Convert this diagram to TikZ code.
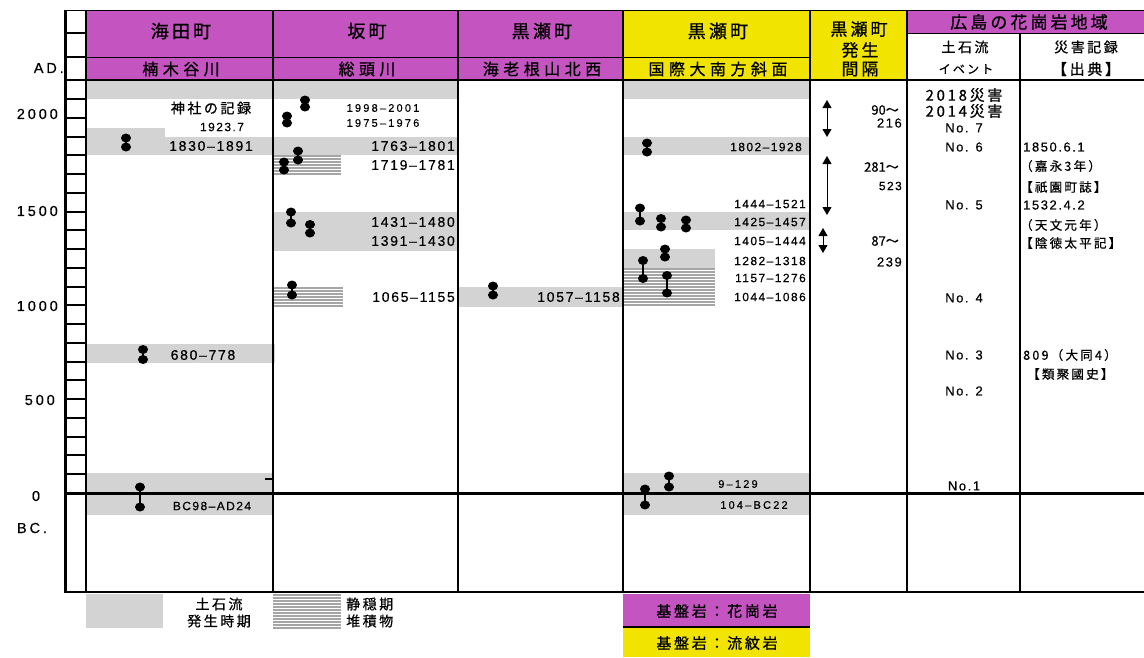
\documentclass[tikz,border=0pt]{standalone}
\usepackage{fontspec}
\setmainfont{Noto Sans CJK JP}
\newfontfamily\jpf[LetterSpace=18,FakeBold=0.7]{Noto Sans CJK JP}
\newfontfamily\jpw[LetterSpace=28,FakeBold=0.7]{Noto Sans CJK JP}
\newfontfamily\jpn[FakeBold=0.5]{Noto Sans CJK JP}
\newfontfamily\numf[LetterSpace=12,FakeBold=0.4]{Liberation Sans}
\newfontfamily\numw[LetterSpace=20,FakeBold=0.4]{Liberation Sans}
\usetikzlibrary{arrows.meta}
\definecolor{mag}{RGB}{196,84,192}
\definecolor{yel}{RGB}{240,228,0}
\definecolor{band}{RGB}{211,211,211}
\definecolor{hatchc}{RGB}{165,165,165}
\newcommand\dumbb[3]{%
  \draw[line width=2.2pt] (#1,#2) -- (#1,#3);
  \fill (#1,#2) ellipse (5pt and 4.5pt);
  \fill (#1,#3) ellipse (5pt and 4.5pt);}
\newcommand\hatchrect[4]{%
  \fill[white] (#1,#2) rectangle (#3,#4);
  \pgfmathtruncatemacro\hn{(#4-#2-1)/3}%
  \foreach \hk in {0,...,\hn} \draw[hatchc, line width=1.1pt] (#1,{#2+1+3*\hk}) -- (#3,{#2+1+3*\hk});}
\tikzset{
  hdA/.style={inner sep=0pt, font={\jpf\fontsize{18}{20}\selectfont}},
  hdB/.style={inner sep=0pt, font={\jpw\fontsize{16}{18}\selectfont}},
  hdC/.style={inner sep=0pt, font={\jpf\fontsize{17}{19}\selectfont}},
  hdD/.style={inner sep=0pt, font={\jpf\fontsize{15}{17}\selectfont}},
  jpS/.style={inner sep=0pt, font={\jpf\fontsize{14}{16}\selectfont}},
  jpT/.style={inner sep=0pt, font={\jpf\fontsize{12.5}{14}\selectfont}},
  numL/.style={inner sep=0pt, font={\numf\fontsize{14}{16}\selectfont}},
  numM/.style={inner sep=0pt, font={\numf\fontsize{12}{14}\selectfont}},
  numS/.style={inner sep=0pt, font={\numw\fontsize{11}{13}\selectfont}},
  numN/.style={inner sep=0pt, font={\numf\fontsize{13}{15}\selectfont}},
  axis/.style={inner sep=0pt, font={\numw\fontsize{14.5}{16}\selectfont}},
  colline/.style={line width=2pt},
  thinline/.style={line width=1pt},
  dbl/.style={line width=1pt, {Triangle[width=9pt,length=8pt]}-{Triangle[width=9pt,length=8pt]}}
}
\begin{document}
\begin{tikzpicture}[x=1pt,y=-1pt]
\useasboundingbox (0,0) rectangle (1144,657);
% ---------- header fills
\fill[mag] (86,10) rectangle (623,80);
\fill[yel] (623,10) rectangle (907,80);
\fill[mag] (907,10) rectangle (1144,33);
% ---------- gray bands (debris flow periods)
\fill[band] (86,80) rectangle (458,99);
\fill[band] (623,80) rectangle (810,99);
\fill[band] (86,128) rectangle (165,155);
\fill[band] (165,137) rectangle (458,155);
\fill[band] (273,212) rectangle (458,251);
\fill[band] (458,287) rectangle (623,307);
\fill[band] (623,137) rectangle (810,155);
\fill[band] (623,212) rectangle (810,230);
\fill[band] (623,249) rectangle (715,268);
\fill[band] (86,344) rectangle (275,363);
\fill[band] (86,473) rectangle (273,515);
\fill[band] (623,473) rectangle (810,515);
% ---------- hatched (quiet period deposits)
\hatchrect{273}{155}{341}{175}
\hatchrect{273}{287}{343}{307}
\hatchrect{623}{268}{715}{307}
% ---------- legend boxes
\fill[band] (86,594) rectangle (163,628);
\hatchrect{273}{594}{341}{628}
\fill[mag] (623,594) rectangle (810,627);
\fill[yel] (623,627) rectangle (810,657);
\draw[line width=2pt] (623,627) -- (810,627);
% ---------- grid lines
\draw[thinline] (65,10) -- (1144,10);
\draw[thinline] (86,57) -- (810,57);
\draw[thinline] (907,33) -- (1144,33);
\foreach \xx in {273,458,623,810,907} \draw[colline] (\xx,10) -- (\xx,592);
\draw[colline] (1020,33) -- (1020,592);
\draw[line width=2.5pt] (65,80) -- (1144,80);
\draw[line width=3pt] (65,493) -- (1144,493);
\draw[line width=2pt] (65,592) -- (1144,592);
% ---------- ladder scale
\draw[line width=3pt] (65,10) -- (65,593);
\draw[line width=2.5pt] (86,10) -- (86,593);
\draw[line width=2pt] (65,33) -- (86,33);
\draw[line width=2pt] (65,57) -- (86,57);
\foreach \k in {1,...,21} \draw[line width=2pt] (65,{493-18.76*\k}) -- (86,{493-18.76*\k});
\draw[line width=1.2pt] (265,479) -- (273,479);
% ---------- header texts
\node[hdA] (h1) at (181,31) {海田町};
\node[hdA] (h2) at (367,31) {坂町};
\node[hdA] (h3) at (542,31) {黒瀬町};
\node[hdA] (h4) at (718,31) {黒瀬町};
\node[hdB] (s1) at (181,69) {楠木谷川};
\node[hdB] (s2) at (367,69) {総頭川};
\node[hdB] (s3) at (542,69) {海老根山北西};
\node[hdB] (s4) at (718,69) {国際大南方斜面};
\node[hdC] (h5a) at (859,29) {黒瀬町};
\node[hdC] (h5b) at (860,50) {発生};
\node[hdC] (h5c) at (860,69) {間隔};
\node[hdC] (h6) at (1029,22) {広島の花崗岩地域};
\node[jpS] (h6a) at (965,47) {土石流};
\node[inner sep=0pt, font={\jpf\fontsize{12}{14}\selectfont}] (h6b) at (966,69) {イベント};
\node[jpS] (h7a) at (1086,47) {災害記録};
\node[hdD] (h7b) at (1086,69) {【出典】};
% ---------- axis labels
\node[axis, anchor=east] (ad) at (64,68) {AD.};
\node[axis, anchor=east] (y2000) at (58,114) {2000};
\node[axis, anchor=east] (y1500) at (58,211) {1500};
\node[axis, anchor=east] (y1000) at (58,306) {1000};
\node[axis, anchor=east] (y500) at (55,400) {500};
\node[axis] (y0) at (36,496) {0};
\node[axis] (bc) at (32,528) {BC.};
% ---------- column 1
\dumbb{126}{138}{147}
\dumbb{143}{349.5}{359.5}
\dumbb{140}{487}{507}
\node[jpS] (c1a) at (211,108) {神社の記録};
\node[numM] (c1b) at (222,127) {1923.7};
\node[numL] (c1c) at (211,146) {1830–1891};
\node[numL] (c1d) at (203,355) {680–778};
\node[numM] (c1e) at (212,506) {BC98–AD24};
% ---------- column 2
\dumbb{305}{100}{107}
\dumbb{287}{116}{123}
\dumbb{298}{151}{160}
\dumbb{284}{162}{170}
\dumbb{291}{212}{223}
\dumbb{310}{224.5}{233}
\dumbb{292}{285}{295}
\node[numS] (c2a) at (383,108) {1998–2001};
\node[numS] (c2b) at (383,123) {1975–1976};
\node[numL, anchor=east] (c2c) at (455,146) {1763–1801};
\node[numL, anchor=east] (c2d) at (455,165) {1719–1781};
\node[numL, anchor=east] (c2e) at (455,222) {1431–1480};
\node[numL, anchor=east] (c2f) at (455,241) {1391–1430};
\node[numL, anchor=east] (c2g) at (455,297) {1065–1155};
% ---------- column 3
\dumbb{493}{286}{295}
\node[numL, anchor=east] (c3a) at (620,297) {1057–1158};
% ---------- column 4
\dumbb{647}{143}{152}
\dumbb{640}{208}{221}
\dumbb{661}{218.5}{227}
\dumbb{686}{220}{228}
\dumbb{665}{249}{257}
\dumbb{643}{260.5}{278.5}
\dumbb{667}{275.5}{293}
\dumbb{669}{476}{487}
\dumbb{645}{489}{505}
\node[numM, anchor=east] (c4a) at (802,147) {1802–1928};
\node[numM, anchor=east] (c4b) at (806,204) {1444–1521};
\node[numM, anchor=east] (c4c) at (806,222) {1425–1457};
\node[numM, anchor=east] (c4d) at (806,241) {1405–1444};
\node[numM, anchor=east] (c4e) at (806,261) {1282–1318};
\node[numM, anchor=east] (c4f) at (806,278) {1157–1276};
\node[numM, anchor=east] (c4g) at (806,297) {1044–1086};
\node[numS] (c4h) at (738,484) {9–129};
\node[numS] (c4i) at (754,505) {104–BC22};
% ---------- column 5 (intervals)
\coordinate (a1t) at (827,100); \coordinate (a1b) at (827,137);
\coordinate (a2t) at (827,156); \coordinate (a2b) at (827,215);
\coordinate (a3t) at (823,228); \coordinate (a3b) at (823,253);
\draw[dbl] (a1t) -- (a1b);
\draw[dbl] (a2t) -- (a2b);
\draw[dbl] (a3t) -- (a3b);
\node[inner sep=0pt, font={\jpn\fontsize{13}{15}\selectfont}, anchor=east] (i1a) at (899,110) {90～};
\node[numN, anchor=east] (i1b) at (902,123) {216};
\node[inner sep=0pt, font={\jpn\fontsize{13}{15}\selectfont}, anchor=east] (i2a) at (899,167) {281～};
\node[numM, anchor=east] (i2b) at (902,186) {523};
\node[inner sep=0pt, font={\jpn\fontsize{13}{15}\selectfont}, anchor=east] (i3a) at (899,241) {87～};
\node[numN, anchor=east] (i3b) at (902,262) {239};
% ---------- column 6 (events)
\node[hdD] (e0a) at (964,95) {2018災害};
\node[hdD] (e0b) at (964,111) {2014災害};
\node[numN] (e7) at (964,128) {No. 7};
\node[numN] (e6) at (964,147) {No. 6};
\node[numN] (e5) at (964,205) {No. 5};
\node[numN] (e4) at (964,298) {No. 4};
\node[numN] (e3) at (964,355) {No. 3};
\node[numN] (e2) at (964,391) {No. 2};
\node[numN] (e1) at (964,486) {No.1};
% ---------- column 7 (records)
\node[numN, anchor=west] (r1) at (1023,147) {1850.6.1};
\node[jpT, anchor=west] (r2) at (1020,166) {（嘉永3年）};
\node[jpT, anchor=west] (r3) at (1020,187) {【祇園町誌】};
\node[numN, anchor=west] (r4) at (1023,205) {1532.4.2};
\node[jpT, anchor=west] (r5) at (1020,225) {（天文元年）};
\node[jpT, anchor=west] (r6) at (1020,243) {【陰徳太平記】};
\node[jpT, anchor=west] (r7) at (1023,355) {809（大同4）};
\node[jpT, anchor=west] (r8) at (1027,374) {【類聚國史】};
% ---------- legend texts
\node[jpS] (l1a) at (219,604) {土石流};
\node[jpS] (l1b) at (219,621) {発生時期};
\node[jpS, anchor=west] (l2a) at (346,604) {静穏期};
\node[jpS, anchor=west] (l2b) at (346,621) {堆積物};
\node[hdD] (l3) at (717,611) {基盤岩：花崗岩};
\node[hdD] (l4) at (717,643) {基盤岩：流紋岩};
\end{tikzpicture}
\end{document}
